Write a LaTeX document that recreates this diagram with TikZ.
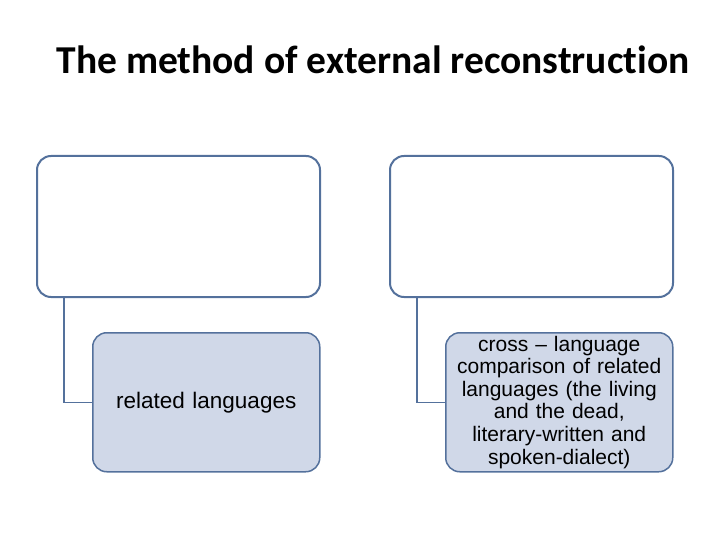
\documentclass[tikz,border=0pt]{standalone}
\usepackage{fontspec}
\setmainfont{Liberation Sans}
\newfontfamily\titlefont[Ligatures=NoCommon]{Carlito}
\definecolor{boxline}{RGB}{84,113,156}
\definecolor{boxfill}{RGB}{208,216,232}
\begin{document}
\begin{tikzpicture}[
    x=1pt, y=-1pt,
    topbox/.style={draw=boxline, line width=2pt, rounded corners=14pt, fill=white,
      minimum width=283pt, minimum height=141pt, anchor=north west},
    subbox/.style={draw=boxline, line width=1.5pt, rounded corners=14pt, fill=boxfill,
      minimum width=227pt, minimum height=139pt, anchor=north west,
      align=center, text width=222pt},
    link/.style={draw=boxline, line width=1.5pt},
    every node/.style={inner sep=0pt}
  ]
  \useasboundingbox (0,0) rectangle (720,540);

  % Title
  \node[font=\titlefont\bfseries\fontsize{39.5}{42}\selectfont] (title) at (373,60)
    {The method of external reconstruction};

  % Left branch
  \node[topbox] (top-1) at (36,155) {};
  \node[subbox, font=\fontsize{22.5}{26}\selectfont] (sub-1) at (92,332) {related languages};

  % Right branch
  \node[topbox] (top-2) at (389,155) {};
  \node[subbox, font=\fontsize{21}{22.6}\selectfont] (sub-2) at (445,332) {cross -- language\\comparison of related\\languages (the living\\and the dead,\\literary-written and\\spoken-dialect)};

  % Connections
  \foreach \i in {1,2}
    \draw[link] (top-\i.south west) ++(28,0) |- (sub-\i.west);

\end{tikzpicture}
\end{document}
